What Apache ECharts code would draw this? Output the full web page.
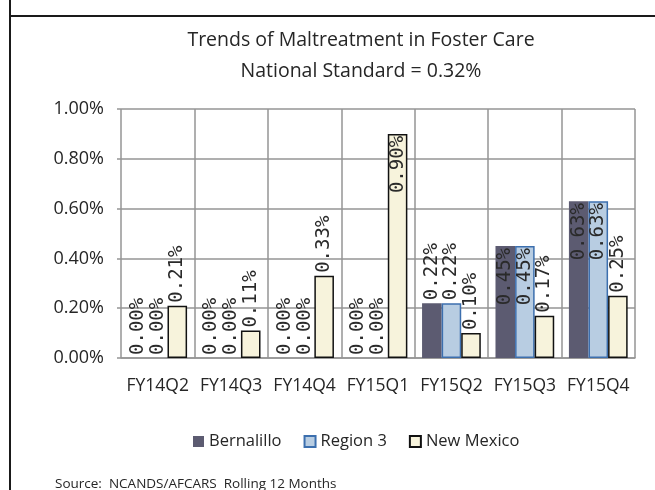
<!DOCTYPE html>
<html>
<head>
<meta charset="utf-8">
<script src="https://cdn.jsdelivr.net/npm/echarts@6/dist/echarts.min.js"></script>
<style>
  html, body { margin: 0; padding: 0; background: #ffffff; }
  #chart { width: 655px; height: 490px; }
</style>
</head>
<body>
<div id="chart"></div>
<script>
// Quarterly rolling-12-month rates of maltreatment in foster care (percent)
var quarters = ['FY14Q2', 'FY14Q3', 'FY14Q4', 'FY15Q1', 'FY15Q2', 'FY15Q3', 'FY15Q4'];
var bernalillo = [0.00, 0.00, 0.00, 0.00, 0.22, 0.45, 0.63];
var region3 = [0.00, 0.00, 0.00, 0.00, 0.22, 0.45, 0.63];
var newMexico = [0.21, 0.11, 0.33, 0.90, 0.10, 0.17, 0.25];
var yTicks = [0, 0.2, 0.4, 0.6, 0.8, 1.0];

var uiFont = '"Open Sans", "Liberation Sans", sans-serif';
var labelFont = '"DejaVu Sans Mono", monospace';

// Tall bars carry their value inside the top; short ones above it.
// Empty bars get no outline so nothing shows along the baseline.
function withLabels(values) {
  return values.map(function (v) {
    var inside = v >= 0.4;
    var item = {
      value: v,
      label: inside
        ? { position: 'insideTop', align: 'right', distance: 2 }
        : { position: 'top', align: 'left', distance: 3 }
    };
    if (v === 0) {
      item.itemStyle = { borderWidth: 0 };
    }
    return item;
  });
}

var labelBase = {
  show: true,
  rotate: 90,
  verticalAlign: 'middle',
  fontFamily: labelFont,
  fontSize: 19,
  color: '#2a2a2a',
  formatter: function (p) { return p.value.toFixed(2) + '%'; }
};

var chart = echarts.init(document.getElementById('chart'), null, { renderer: 'canvas' });

chart.setOption({
  animation: false,
  backgroundColor: '#ffffff',
  title: {
    text: 'Trends of Maltreatment in Foster Care\nNational Standard = 0.32%',
    left: 356,
    textAlign: 'center',
    top: 20,
    textStyle: {
      fontFamily: uiFont,
      fontSize: 19.5,
      fontWeight: 'normal',
      color: '#262626',
      lineHeight: 31
    }
  },
  legend: {
    data: ['Bernalillo', 'Region 3', 'New Mexico'],
    left: 188,
    top: 428,
    width: 460,
    itemWidth: 11,
    itemHeight: 11,
    itemGap: 22,
    icon: 'rect',
    textStyle: { fontFamily: uiFont, fontSize: 16.5, color: '#262626' }
  },
  grid: { left: 121, right: 20, top: 109, bottom: 132, containLabel: false },
  xAxis: {
    type: 'category',
    data: quarters,
    boundaryGap: true,
    axisLine: { show: true, lineStyle: { color: '#959595', width: 1.5 } },
    axisTick: { show: false },
    splitLine: { show: true, interval: 0, lineStyle: { color: '#959595', width: 1.5 } },
    axisLabel: {
      interval: 0,
      margin: 19,
      fontFamily: uiFont,
      fontSize: 17.5,
      color: '#262626'
    }
  },
  yAxis: {
    type: 'value',
    min: yTicks[0],
    max: yTicks[yTicks.length - 1],
    interval: 0.2,
    axisLine: { show: false },
    axisTick: { show: true, length: 4, lineStyle: { color: '#959595', width: 1.5 } },
    splitLine: { show: true, lineStyle: { color: '#959595', width: 1.5 } },
    axisLabel: {
      margin: 17,
      fontFamily: uiFont,
      fontSize: 18,
      color: '#262626',
      formatter: function (v) { return v.toFixed(2) + '%'; }
    }
  },
  series: [
    {
      name: 'Bernalillo',
      type: 'bar',
      data: withLabels(bernalillo),
      barGap: '0%',
      barCategoryGap: '20%',
      itemStyle: { color: '#5c5b71', borderColor: '#5c5b71', borderWidth: 0 },
      label: labelBase
    },
    {
      name: 'Region 3',
      type: 'bar',
      data: withLabels(region3),
      itemStyle: { color: '#b8cde2', borderColor: '#3c6fae', borderWidth: 1.5 },
      label: labelBase
    },
    {
      name: 'New Mexico',
      type: 'bar',
      data: withLabels(newMexico),
      itemStyle: { color: '#f7f3dc', borderColor: '#111111', borderWidth: 1.5 },
      label: labelBase
    }
  ],
  graphic: [
    { type: 'line', shape: { x1: 10, y1: 0, x2: 10, y2: 490 }, style: { stroke: '#1a1a1a', lineWidth: 2 } },
    { type: 'line', shape: { x1: 10, y1: 16, x2: 655, y2: 16 }, style: { stroke: '#1a1a1a', lineWidth: 2 } },
    {
      type: 'text',
      left: 55,
      top: 477,
      style: {
        text: 'Source:  NCANDS/AFCARS  Rolling 12 Months',
        fontFamily: uiFont,
        fontSize: 13.5,
        fill: '#262626'
      }
    }
  ]
});
</script>
</body>
</html>
